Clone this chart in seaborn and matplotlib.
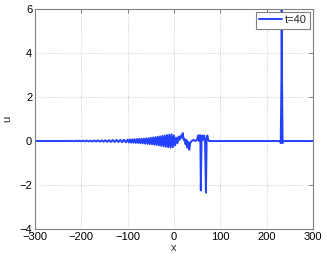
import matplotlib
matplotlib.use("Agg")
import matplotlib.pyplot as plt
import seaborn as sns
import pandas as pd

# --- data ---
# flat left tail
x_tail = [-300, -240]
u_tail = [0.0, 0.0]

# small ripples of the dispersive tail
x_ripple = [-236, -232, -228, -224, -220, -216, -212, -208, -204, -200,
            -196, -192, -188, -184, -180, -176, -172, -168, -164, -160,
            -156, -152, -148, -144, -140, -136, -132, -128, -124, -120,
            -116, -112, -108, -104, -100]
u_ripple = [0.005, -0.005, 0.005, -0.005, 0.01, -0.01, 0.01, -0.01, 0.015, -0.015,
            0.015, -0.015, 0.02, -0.02, 0.02, -0.025, 0.025, -0.025, 0.03, -0.03,
            0.03, -0.035, 0.035, -0.035, 0.04, -0.04, 0.045, -0.045, 0.05, -0.05,
            0.055, -0.055, 0.06, -0.06, 0.065]

# growing wave packet
x_packet = [-97.5, -95, -92.5, -90, -87.5, -85, -82.5, -80, -77.5, -75,
            -72.5, -70, -67.5, -65, -62.5, -60, -57.5, -55, -52.5, -50,
            -47.5, -45, -42.5, -40, -37.5, -35, -32.5, -30, -27.5, -25,
            -22.5, -20, -17.5, -15, -12.5, -10, -7.5, -5, -2.5, 0]
u_packet = [-0.07, 0.07, -0.075, 0.075, -0.08, 0.08, -0.085, 0.09, -0.09, 0.095,
            -0.1, 0.1, -0.11, 0.11, -0.12, 0.12, -0.13, 0.13, -0.14, 0.15,
            -0.15, 0.16, -0.17, 0.18, -0.18, 0.19, -0.2, 0.21, -0.22, 0.23,
            -0.24, 0.25, -0.26, 0.27, -0.28, 0.29, -0.3, 0.3, -0.28, 0.25]

# irregular region right of the origin
x_mid = [2.5, 5, 7.5, 10, 12.5, 15, 17, 19, 21, 23, 25, 27, 29, 31, 33, 35,
         38, 42, 46, 50]
u_mid = [-0.2, 0.15, -0.1, 0.2, 0.05, 0.25, 0.15, 0.36, 0.05, 0.1, -0.15, 0.05,
         -0.3, -0.05, -0.4, -0.1, 0.0, 0.05, 0.0, 0.05]

# two negative solitons with oscillations
x_dips = [52, 54, 56, 57, 58, 59.5, 61, 63, 65, 67, 69, 70.5, 72, 74, 76, 80]
u_dips = [0.25, 0.0, 0.27, 0.1, -2.25, 0.0, 0.25, 0.05, 0.25, 0.1, -2.35, 0.0,
          0.25, 0.05, 0.0, 0.0]

# large positive soliton
x_peak = [229, 230.5, 232, 232.6, 233.2, 234.5, 236, 300]
u_peak = [0.0, -0.1, 3.0, 6.0, 3.0, -0.1, 0.0, 0.0]

x_ticks = [-300, -200, -100, 0, 100, 200, 300]
y_ticks = [-4, -2, 0, 2, 4, 6]
series_label = "t=40"

x_all = x_tail + x_ripple + x_packet + x_mid + x_dips + x_peak
u_all = u_tail + u_ripple + u_packet + u_mid + u_dips + u_peak
df = pd.DataFrame({"x": x_all, "u": u_all, "series": series_label})

sns.set_theme(style="white")
plt.rcParams["font.family"] = ["Liberation Sans", "DejaVu Sans"]
plt.rcParams["axes.unicode_minus"] = True

fig = plt.figure(figsize=(3.27, 2.59), dpi=100)
ax = fig.add_axes([0.107, 0.116, 0.85, 0.849])

sns.lineplot(data=df, x="x", y="u", hue="series", palette=["#2342ff"],
             estimator=None, sort=False, linewidth=1.4, ax=ax)

ax.set_xlim(-300, 300)
ax.set_ylim(-4, 6)
ax.set_xticks(x_ticks)
ax.set_yticks(y_ticks)
ax.tick_params(direction="in", length=3, width=0.6, colors="#666666",
               labelsize=8, top=True, right=True, pad=2, labelcolor="black")
ax.grid(True, linestyle=(0, (1, 2)), color="#b8b8b8", linewidth=0.6)
for s in ax.spines.values():
    s.set_color("#808080")
    s.set_linewidth(0.8)
ax.set_xlabel("x", fontsize=8, labelpad=1)
ax.set_ylabel("u", fontsize=8, labelpad=5)

leg = ax.legend(loc="upper right", fontsize=8, frameon=True, fancybox=False,
                handlelength=2.0, handletextpad=0.3, borderpad=0.3,
                borderaxespad=0.25, framealpha=1)
leg.get_frame().set_edgecolor("#808080")
leg.get_frame().set_linewidth(0.8)

fig.savefig("out.png", dpi=100)
